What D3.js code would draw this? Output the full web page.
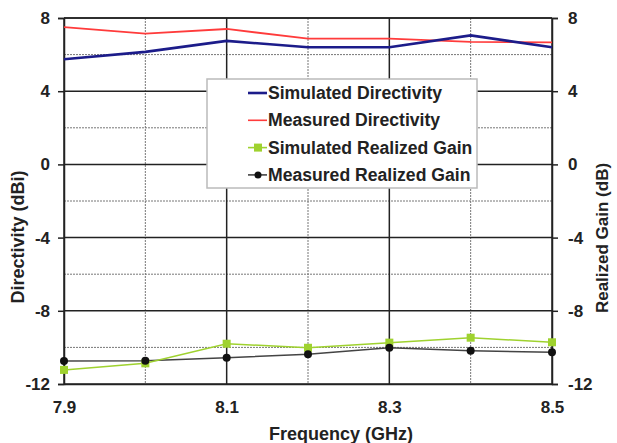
<!DOCTYPE html>
<html>
<head>
<meta charset="utf-8">
<script src="https://cdn.jsdelivr.net/npm/d3@7"></script>
<style>
	body { margin: 0; background: #fff; }
	text { font-family: "Liberation Sans", Arial, sans-serif; font-weight: bold; }
</style>
</head>
<body>
<script>
// frequencies and the four series
const freqs = [7.9, 8.0, 8.1, 8.2, 8.3, 8.4, 8.5]
const simDirectivity = [5.75, 6.15, 6.75, 6.4, 6.4, 7.05, 6.4]
const measDirectivity = [7.5, 7.15, 7.4, 6.87, 6.87, 6.7, 6.67]
const simGain = [-11.23, -10.87, -9.8, -10.02, -9.74, -9.47, -9.72]
const measGain = [-10.74, -10.73, -10.56, -10.38, -10.02, -10.18, -10.27]

const xTicks = [7.9, 8.1, 8.3, 8.5]
const xMinor = [8.0, 8.2, 8.4]
const yTicks = [8, 4, 0, -4, -8, -12]
const yMinor = [6, 2, -2, -6, -10]

const legendNames = ["Simulated Directivity", "Measured Directivity", "Simulated Realized Gain", "Measured Realized Gain"]

function drawChart() {
	// plot area
	var margin = { top: 18, right: 65, bottom: 59, left: 64 },
		width = 617 - margin.left - margin.right,
		height = 443 - margin.top - margin.bottom;

	var x = d3.scaleLinear().domain([7.9, 8.5]).range([0, width]);
	var y = d3.scaleLinear().domain([-12, 8]).range([height, 0]);

	var svg = d3.select("body").append("svg")
		.attr("width", 617)
		.attr("height", 443)
		.append("g")
		.attr("transform", "translate(" + margin.left + "," + margin.top + ")");

	// dotted minor grid
	svg.selectAll(".xminor").data(xMinor).enter().append("line")
		.attr("x1", d => x(d)).attr("x2", d => x(d))
		.attr("y1", 0).attr("y2", height)
		.attr("stroke", "#777").attr("stroke-width", 1).attr("stroke-dasharray", "2,1");
	svg.selectAll(".yminor").data(yMinor).enter().append("line")
		.attr("x1", 0).attr("x2", width)
		.attr("y1", d => y(d)).attr("y2", d => y(d))
		.attr("stroke", "#777").attr("stroke-width", 1).attr("stroke-dasharray", "2,1");

	// solid major grid
	svg.selectAll(".xmajor").data(xTicks).enter().append("line")
		.attr("x1", d => x(d)).attr("x2", d => x(d))
		.attr("y1", 0).attr("y2", height)
		.attr("stroke", "#222").attr("stroke-width", 1.5);
	svg.selectAll(".ymajor").data(yTicks).enter().append("line")
		.attr("x1", 0).attr("x2", width)
		.attr("y1", d => y(d)).attr("y2", d => y(d))
		.attr("stroke", "#222").attr("stroke-width", 1.5);

	// axes (plain hyphen for negatives, like the original)
	var fmt = d => String(d);
	var left = svg.append("g")
		.call(d3.axisLeft(y).tickValues(yTicks).tickSize(6).tickPadding(8).tickFormat(fmt));
	var right = svg.append("g")
		.attr("transform", "translate(" + width + ",0)")
		.call(d3.axisRight(y).tickValues(yTicks).tickSize(6).tickPadding(10).tickFormat(fmt));
	var bottom = svg.append("g")
		.attr("transform", "translate(0," + height + ")")
		.call(d3.axisBottom(x).tickValues(xTicks).tickSize(0).tickPadding(17).tickFormat(d3.format(".1f")));
	[left, right, bottom].forEach(a => {
		a.selectAll("text").style("font-size", "17px").attr("fill", "#222");
		a.selectAll("line").attr("stroke", "#222").attr("stroke-width", 1.5);
		a.select(".domain").attr("stroke", "#222").attr("stroke-width", 1.5);
	});
	svg.append("line").attr("x1", 0).attr("x2", width).attr("y1", 0).attr("y2", 0)
		.attr("stroke", "#222").attr("stroke-width", 1.5);

	// series
	var line = d3.line().x((d, i) => x(freqs[i])).y(d => y(d));
	svg.append("path").datum(measGain).attr("d", line)
		.attr("fill", "none").attr("stroke", "#444").attr("stroke-width", 1.5);
	svg.append("path").datum(simGain).attr("d", line)
		.attr("fill", "none").attr("stroke", "#9fd22f").attr("stroke-width", 1.5);
	svg.append("path").datum(measDirectivity).attr("d", line)
		.attr("fill", "none").attr("stroke", "#ff3b3b").attr("stroke-width", 1.8);
	svg.append("path").datum(simDirectivity).attr("d", line)
		.attr("fill", "none").attr("stroke", "#1c1c8a").attr("stroke-width", 2.6);

	svg.selectAll(".sq").data(simGain).enter().append("rect")
		.attr("x", (d, i) => x(freqs[i]) - 4).attr("y", d => y(d) - 4)
		.attr("width", 8).attr("height", 8).attr("fill", "#9fd22f");
	svg.selectAll(".dot").data(measGain).enter().append("circle")
		.attr("cx", (d, i) => x(freqs[i])).attr("cy", d => y(d))
		.attr("r", 4).attr("fill", "#111");

	// axis titles
	svg.append("text").attr("transform", "translate(" + (18 - margin.left) + "," + (237 - margin.top) + ") rotate(-90)")
		.attr("text-anchor", "middle").attr("dy", "0.35em").style("font-size", "18px").attr("fill", "#222")
		.text("Directivity (dBi)");
	svg.append("text").attr("transform", "translate(" + (602 - margin.left) + "," + (238 - margin.top) + ") rotate(-90)")
		.attr("text-anchor", "middle").attr("dy", "0.35em").style("font-size", "17px").attr("fill", "#222")
		.text("Realized Gain (dB)");
	svg.append("text").attr("x", 341 - margin.left).attr("y", 434 - margin.top)
		.attr("text-anchor", "middle").attr("dy", "0.35em").style("font-size", "18px").attr("fill", "#222")
		.text("Frequency (GHz)");

	// legend
	var lg = svg.append("g").attr("transform", "translate(" + (207 - margin.left) + "," + (79 - margin.top) + ")");
	lg.append("rect").attr("width", 270).attr("height", 109)
		.attr("fill", "#fff").attr("stroke", "#bbb").attr("stroke-width", 1.5);
	var colors = ["#1c1c8a", "#ff3b3b", "#9fd22f", "#444"];
	var rows = lg.selectAll(".row").data(legendNames).enter().append("g")
		.attr("transform", (d, i) => "translate(0," + (14 + i * 27.3) + ")");
	rows.append("line").attr("x1", 41).attr("x2", 60).attr("y1", 0).attr("y2", 0)
		.attr("stroke", (d, i) => colors[i]).attr("stroke-width", (d, i) => i == 0 ? 2.6 : 1.6);
	rows.filter((d, i) => i == 2).append("rect")
		.attr("x", 47).attr("y", -4).attr("width", 8).attr("height", 8).attr("fill", "#9fd22f");
	rows.filter((d, i) => i == 3).append("circle")
		.attr("cx", 51).attr("cy", 0).attr("r", 3.5).attr("fill", "#111");
	rows.append("text").attr("x", 61).attr("y", 0).attr("dy", "0.35em")
		.style("font-size", "17.6px").attr("fill", "#222")
		.text(d => d);
}

drawChart();
</script>
</body>
</html>
